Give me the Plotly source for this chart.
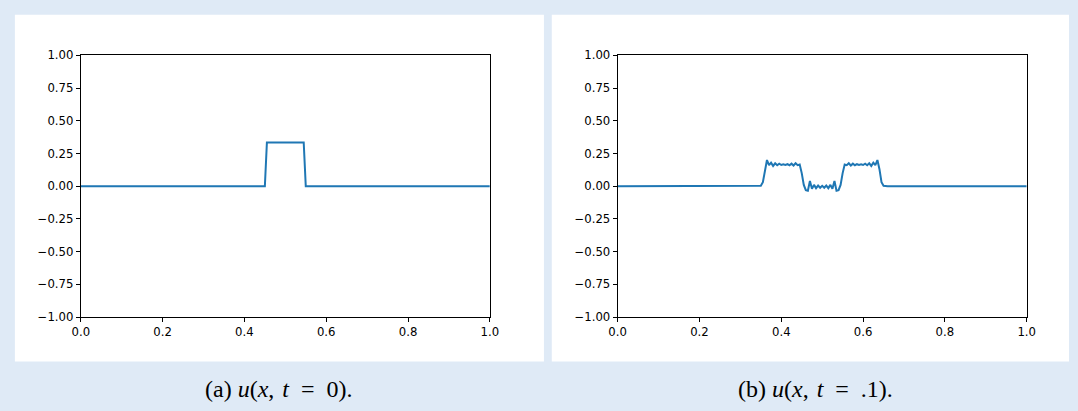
import plotly.graph_objects as go

# ---- data ----
x_t0 = [0.0, 0.45, 0.455, 0.545, 0.55, 1.0]
u_t0 = [0.0, 0.0, 1/3, 1/3, 0.0, 0.0]

x_t1 = [0.0, 0.340, 0.345, 0.350, 0.355, 0.360, 0.365, 0.370, 0.375, 0.380, 0.385,
        0.390, 0.395, 0.400, 0.405, 0.410, 0.415, 0.420, 0.425, 0.430, 0.435,
        0.440, 0.445, 0.450, 0.455, 0.460, 0.465, 0.470, 0.475, 0.480, 0.485,
        0.490, 0.495, 0.500, 0.505, 0.510, 0.515, 0.520, 0.525, 0.530, 0.535,
        0.540, 0.545, 0.550, 0.555, 0.560, 0.565, 0.570, 0.575, 0.580, 0.585,
        0.590, 0.595, 0.600, 0.605, 0.610, 0.615, 0.620, 0.625, 0.630, 0.635,
        0.640, 0.645, 0.650, 0.655, 0.660, 1.0]
u_t1 = [0.0, 0.0, 0.0, 0.003, 0.03, 0.13, 0.20, 0.16, 0.18, 0.155, 0.175,
        0.16, 0.172, 0.162, 0.168, 0.163, 0.168, 0.16, 0.172, 0.158, 0.175,
        0.16, 0.165, 0.10, 0.01, -0.03, -0.035, 0.04, -0.02, 0.01, -0.015,
        0.005, -0.012, 0.003, -0.012, 0.005, -0.015, 0.01, -0.02, 0.04, -0.035,
        -0.03, 0.01, 0.10, 0.165, 0.16, 0.175, 0.158, 0.172, 0.16, 0.168,
        0.163, 0.168, 0.162, 0.172, 0.16, 0.175, 0.155, 0.18, 0.16, 0.20,
        0.13, 0.03, 0.003, 0.0, 0.0, 0.0]

x_ticks = [0.0, 0.2, 0.4, 0.6, 0.8, 1.0]
x_tick_text = ["0.0", "0.2", "0.4", "0.6", "0.8", "1.0"]
y_ticks = [-1.0, -0.75, -0.5, -0.25, 0.0, 0.25, 0.5, 0.75, 1.0]
y_tick_text = ["\u22121.00", "\u22120.75", "\u22120.50", "\u22120.25", "0.00",
               "0.25", "0.50", "0.75", "1.00"]
captions = ["(a) <i>u</i>(<i>x</i>,\u2004<i>t</i>\u2002=\u20020).",
            "(b) <i>u</i>(<i>x</i>,\u2004<i>t</i>\u2002=\u2002.1)."]

W, H = 1078, 411
LINE = "#1f77b4"
BG = "#dfeaf6"

fig = go.Figure()
fig.add_trace(go.Scatter(x=x_t0, y=u_t0, mode="lines", line=dict(color=LINE, width=2),
                         xaxis="x", yaxis="y", showlegend=False, hoverinfo="skip"))
fig.add_trace(go.Scatter(x=x_t1, y=u_t1, mode="lines", line=dict(color=LINE, width=2),
                         xaxis="x2", yaxis="y2", showlegend=False, hoverinfo="skip"))

tickfont = dict(family="DejaVu Sans", size=11.7, color="#000000")
ax_common = dict(showgrid=False, zeroline=False, showline=True, linecolor="#000000",
                 linewidth=1, mirror=True, ticks="outside", ticklen=4, tickwidth=1,
                 tickcolor="#000000", tickfont=tickfont, fixedrange=True)

ydom = [1 - 321 / H, 1 - 50 / H]
fig.update_layout(
    width=W, height=H,
    margin=dict(l=0, r=0, t=0, b=0),
    paper_bgcolor=BG, plot_bgcolor="#ffffff",
    xaxis=dict(domain=[73 / W, 489 / W], range=[0, 1], tickvals=x_ticks,
               ticktext=x_tick_text, anchor="y", **ax_common),
    yaxis=dict(domain=ydom, range=[-1, 1], tickvals=y_ticks, ticktext=y_tick_text,
               anchor="x", **ax_common),
    xaxis2=dict(domain=[619 / W, 1035 / W], range=[0, 1], tickvals=x_ticks,
                ticktext=x_tick_text, anchor="y2", **ax_common),
    yaxis2=dict(domain=ydom, range=[-1, 1], tickvals=y_ticks, ticktext=y_tick_text,
                anchor="x2", **ax_common),
    shapes=[
        dict(type="rect", xref="paper", yref="paper", x0=6 / W, x1=544 / W,
             y0=1 - 367 / H, y1=1 - 8 / H, fillcolor="#ffffff", line_width=0, layer="below"),
        dict(type="rect", xref="paper", yref="paper", x0=552 / W, x1=1.0,
             y0=1 - 367 / H, y1=1 - 8 / H, fillcolor="#ffffff", line_width=0, layer="below"),
    ],
    annotations=[
        dict(text=captions[0], xref="paper", yref="paper", x=275 / W, y=1 - 395 / H,
             xanchor="center", yanchor="middle", showarrow=False,
             font=dict(family="Liberation Serif", size=24, color="#000000")),
        dict(text=captions[1], xref="paper", yref="paper", x=820 / W, y=1 - 395 / H,
             xanchor="center", yanchor="middle", showarrow=False,
             font=dict(family="Liberation Serif", size=24, color="#000000")),
    ],
)

fig.write_html(
    "out.html",
    config={"displayModeBar": False, "staticPlot": True},
    post_script="document.body.style.margin='0';document.body.style.padding='0';"
                "document.body.style.overflow='hidden';"
                "document.body.style.background='#dfeaf6';",
)
